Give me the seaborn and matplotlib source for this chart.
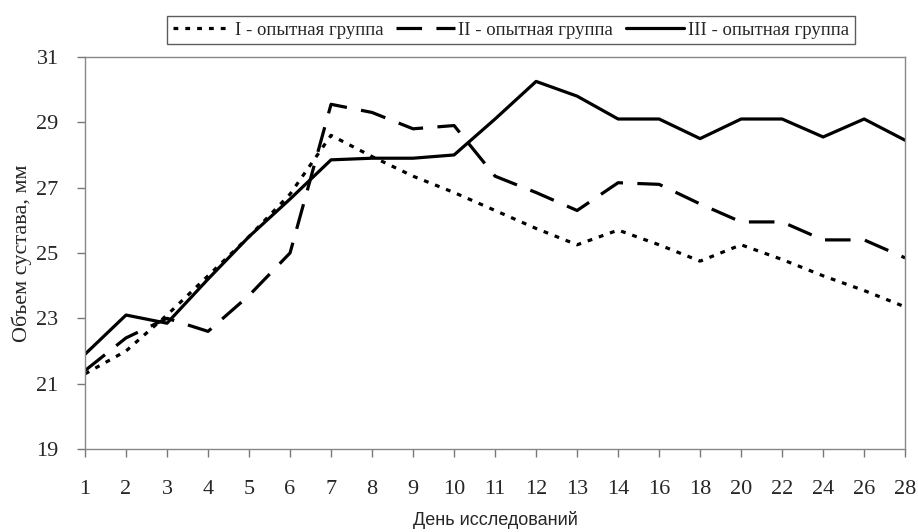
import numpy as np
import pandas as pd
import matplotlib
matplotlib.use('Agg')
import matplotlib.pyplot as plt
import seaborn as sns

days = ['1', '2', '3', '4', '5', '6', '7', '8', '9', '10', '11', '12', '13', '14',
        '16', '18', '20', '22', '24', '26', '28']
group_1 = [21.3, 22.0, 23.1, 24.3, 25.5, 26.8, 28.6, 27.95, 27.35, 26.85, 26.3,
           25.75, 25.25, 25.7, 25.25, 24.75, 25.25, 24.8, 24.3, 23.85, 23.35]
group_2 = [21.4, 22.4, 23.0, 22.6, 23.7, 25.0, 29.55, 29.3, 28.8, 28.9, 27.35,
           26.85, 26.3, 27.15, 27.1, 26.5, 25.95, 25.95, 25.4, 25.4, 24.85]
group_3 = [21.9, 23.1, 22.85, 24.2, 25.5, 26.65, 27.85, 27.9, 27.9, 28.0, 29.1,
           30.25, 29.8, 29.1, 29.1, 28.5, 29.1, 29.1, 28.55, 29.1, 28.45]
labels = ['I - опытная группа', 'II - опытная группа', 'III - опытная группа']

df = pd.DataFrame({
    'day': days * 3,
    'value': group_1 + group_2 + group_3,
    'group': [labels[0]] * len(days) + [labels[1]] * len(days) + [labels[2]] * len(days),
})

sns.set_style('white')
plt.rcParams['font.family'] = ['Liberation Serif', 'DejaVu Serif']

fig = plt.figure(figsize=(9.18, 5.32), dpi=100)
ax = fig.add_axes([0.0926, 0.156, 0.8934, 0.737])

sns.lineplot(data=df, x='day', y='value', hue='group', style='group',
             palette=['black'] * 3, linewidth=2.3, sort=False,
             dashes={labels[0]: (1.5, 2.2), labels[1]: (8, 4.5), labels[2]: ''},
             ax=ax)

ax.set_xlim(0, len(days) - 1)
ax.set_ylim(19, 31)
ax.set_yticks(np.arange(19, 32, 2))
ax.tick_params(axis='both', which='major', labelsize=16, length=6, width=1,
               color='#777777', direction='out', left=True, bottom=True)
ax.tick_params(axis='x', pad=16)
ax.tick_params(axis='y', pad=13)
for s in ax.spines.values():
    s.set_color('#888888')
    s.set_linewidth(1)

ax.set_ylabel('Объем сустава, мм', fontsize=16, labelpad=3)
ax.set_xlabel('День исследований', fontsize=13, family=['Liberation Sans', 'DejaVu Sans'],
              labelpad=9)

handles, lbls = ax.get_legend_handles_labels()
ax.legend(handles, lbls, loc='center', bbox_to_anchor=(511 / 918, 1 - 30 / 532),
          bbox_transform=fig.transFigure, ncol=3, frameon=True, fancybox=False,
          edgecolor='#333333', fontsize=13.5, handlelength=3.1, columnspacing=0.7,
          handletextpad=0.2, borderpad=0.3, borderaxespad=0)
ax.get_legend().get_frame().set_linewidth(1)

fig.savefig('out.png', dpi=100, facecolor='white')
